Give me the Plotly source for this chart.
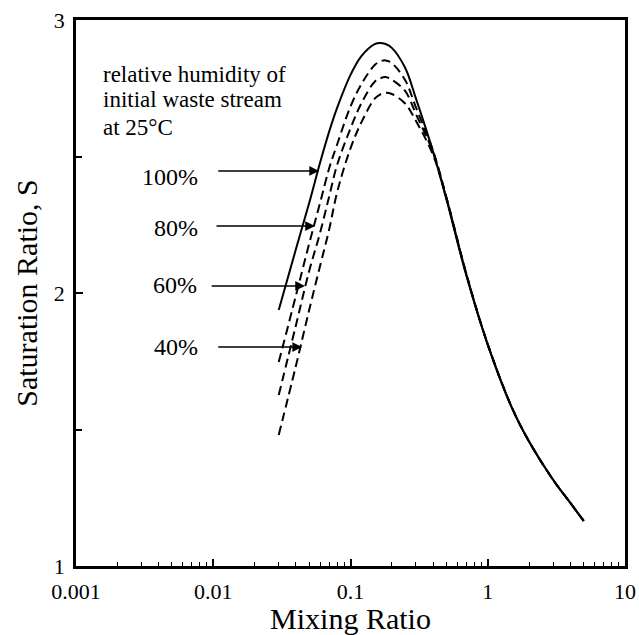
import numpy as np
import plotly.graph_objects as go

# ---------------- data ----------------
mixing_ratio = [0.03, 0.04, 0.05, 0.06, 0.07, 0.08, 0.1, 0.12, 0.15, 0.164, 0.18, 0.2,
                0.25, 0.3, 0.4, 0.5, 0.7, 1.0, 1.5, 2.0, 3.0, 4.0, 5.0]
s_rh100 = [1.938, 2.160, 2.330, 2.477, 2.592, 2.679, 2.799, 2.868, 2.912, 2.916, 2.912, 2.898,
           2.825, 2.712, 2.517, 2.343, 2.062, 1.810, 1.579, 1.456, 1.315, 1.231, 1.165]
s_rh80 = [1.747, 1.990, 2.181, 2.330, 2.458, 2.545, 2.683, 2.765, 2.835, 2.848, 2.852, 2.842,
          2.780, 2.679, 2.520, 2.348, 2.066, 1.812, 1.580, 1.456, 1.315, 1.231, 1.165]
s_rh60 = [1.626, 1.881, 2.081, 2.220, 2.355, 2.470, 2.603, 2.695, 2.774, 2.786, 2.791, 2.781,
          2.740, 2.655, 2.515, 2.350, 2.068, 1.812, 1.580, 1.456, 1.315, 1.231, 1.165]
s_rh40 = [1.480, 1.733, 1.938, 2.099, 2.234, 2.370, 2.530, 2.625, 2.712, 2.727, 2.733, 2.729,
          2.694, 2.630, 2.505, 2.348, 2.068, 1.812, 1.580, 1.456, 1.315, 1.231, 1.165]

rh_labels = ["100%", "80%", "60%", "40%"]
label_x = [0.0080, 0.0080, 0.0079, 0.0080]
label_y = [2.425, 2.238, 2.029, 1.802]
arrow_tail_x = [0.0106, 0.0103, 0.0095, 0.0106]
arrow_tip_x = [0.059, 0.0551, 0.0466, 0.0444]
arrow_y = [2.447, 2.245, 2.026, 1.802]

note_lines = ["relative humidity of", "initial waste stream", "at 25°C"]
note_x = 0.00152
note_y = [2.802, 2.707, 2.608]

x_tickvals = [0.001, 0.01, 0.1, 1, 10]
x_ticktext = ["0.001", "0.01", "0.1", "1", "10"]
y_tickvals = [1, 2, 3]

FONT = "Liberation Serif, Times New Roman, serif"

fig = go.Figure()
fig.add_trace(go.Scatter(x=mixing_ratio, y=s_rh100, mode="lines", line_shape="spline",
                         line=dict(color="black", width=2)))
for s in (s_rh80, s_rh60, s_rh40):
    fig.add_trace(go.Scatter(x=mixing_ratio, y=s, mode="lines", line_shape="spline",
                             line=dict(color="black", width=2, dash="9px,5px")))

ann = []
for i, t in enumerate(note_lines):
    ann.append(dict(x=np.log10(note_x), y=note_y[i], xref="x", yref="y", text=t,
                    showarrow=False, xanchor="left", yanchor="middle",
                    font=dict(family=FONT, size=23, color="black")))
for i, t in enumerate(rh_labels):
    ann.append(dict(x=np.log10(label_x[i]), y=label_y[i], xref="x", yref="y", text=t,
                    showarrow=False, xanchor="right", yanchor="middle",
                    font=dict(family=FONT, size=24, color="black")))
    ann.append(dict(x=np.log10(arrow_tip_x[i]), y=arrow_y[i], xref="x", yref="y",
                    ax=np.log10(arrow_tail_x[i]), ay=arrow_y[i], axref="x", ayref="y",
                    text="", showarrow=True, arrowhead=2, arrowsize=1.3, arrowwidth=1.5,
                    arrowcolor="black"))

fig.update_layout(
    width=639, height=635,
    margin=dict(l=76, r=14, t=20, b=69),
    paper_bgcolor="white", plot_bgcolor="white",
    showlegend=False,
    font=dict(family=FONT, color="black"),
    annotations=ann,
)
fig.update_xaxes(
    type="log", range=[-3, 1], tickvals=x_tickvals, ticktext=x_ticktext,
    automargin=False, ticklabeloverflow="allow",
    ticks="inside", ticklen=7, tickwidth=1.5, tickcolor="black",
    minor=dict(ticks="inside", ticklen=4, tickwidth=1.2, tickcolor="black", dtick="D1", showgrid=False),
    showline=True, linewidth=2.5, linecolor="black", mirror=True,
    showgrid=False, zeroline=False,
    tickfont=dict(family=FONT, size=22, color="black"),
    ticklabelstandoff=4,
    title=dict(text="Mixing Ratio", font=dict(family=FONT, size=30, color="black"), standoff=2),
)
fig.update_yaxes(
    range=[1, 3], tickvals=y_tickvals,
    automargin=False, ticklabeloverflow="allow",
    ticks="inside", ticklen=7, tickwidth=1.5, tickcolor="black",
    minor=dict(ticks="inside", ticklen=6, tickwidth=1.5, tickcolor="black", dtick=0.5, showgrid=False),
    showline=True, linewidth=2.5, linecolor="black", mirror=True,
    showgrid=False, zeroline=False,
    tickfont=dict(family=FONT, size=22, color="black"),
    ticklabelstandoff=4,
    title=dict(text="Saturation Ratio, S", font=dict(family=FONT, size=30, color="black"), standoff=8),
)

fig.write_html("out.html", config={"displayModeBar": False},
               post_script="document.body.style.margin='0';document.body.style.overflow='hidden';")
